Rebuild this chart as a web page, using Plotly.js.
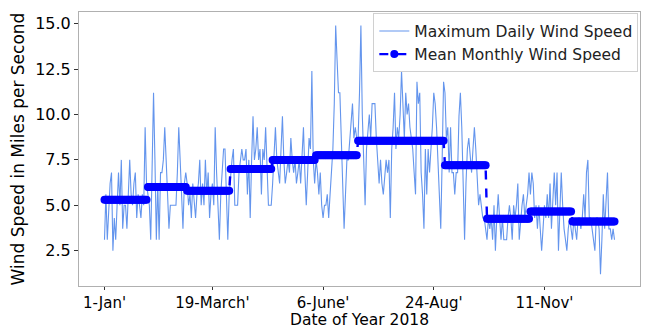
<!DOCTYPE html>
<html>
<head>
<meta charset="utf-8">
<script src="https://cdn.plot.ly/plotly-3.0.1.min.js"></script>
<style>
  html, body { margin: 0; padding: 0; background: #ffffff; }
  #chart { width: 648px; height: 329px; }
</style>
</head>
<body>
<div id="chart"></div>
<script>
// Daily maximum wind speed (mph), one array per month of 2018
const janSpeed = [3.1,5.6,3.1,5.0,6.2,6.8,2.5,4.3,3.1,5.0,6.8,5.0,7.5,3.7,5.0,5.0,3.7,5.6,7.5,5.6,5.0,6.2,6.8,4.3,5.6,5.0,4.3,5.6,5.0,9.3,6.2];
const febSpeed = [5.6,5.0,3.1,6.8,11.2,7.5,3.1,6.2,3.1,6.8,6.8,7.5,9.3,7.5,5.0,3.7,5.0,5.0,5.0,5.0,5.0,6.8,9.3,7.5,5.0,3.7,6.2,6.8];
const marSpeed = [6.2,5.0,5.6,4.3,6.2,5.0,4.3,5.6,6.2,7.5,5.0,6.2,5.0,7.5,5.6,6.8,4.3,5.6,6.2,5.0,9.3,6.8,5.0,3.1,5.6,6.8,8.1,8.1,5.6,3.1,5.6];
const aprSpeed = [6.8,7.5,8.1,5.0,5.0,5.0,6.8,7.5,8.1,7.5,7.5,8.1,5.6,7.5,4.3,7.5,9.9,7.5,8.1,9.3,7.5,8.1,5.6,8.1,7.5,9.3,6.8,5.0,5.0,5.0];
const maySpeed = [6.2,8.1,9.3,7.5,6.8,6.2,8.1,9.9,7.5,6.2,6.8,7.5,6.8,8.7,7.5,6.8,7.5,6.2,6.8,7.5,6.2,7.5,9.3,6.8,5.0,6.8,8.7,8.1,12.4,7.5,6.2];
const junSpeed = [7.5,6.8,5.6,6.8,5.0,4.3,5.0,5.0,5.6,4.3,5.6,6.8,8.1,10.6,14.9,13.0,11.2,11.2,8.7,6.2,3.7,5.6,7.5,7.5,8.7,9.3,10.6,8.7,9.3,8.7];
const julSpeed = [8.7,11.2,14.9,10.0,7.5,5.0,8.1,9.3,10.0,8.7,10.6,10.6,10.6,8.7,7.5,6.2,7.5,6.2,5.6,6.8,7.5,6.8,7.5,4.3,8.1,9.3,11.2,8.1,9.3,8.7,10.0];
const augSpeed = [12.4,10.6,8.7,11.2,10.0,10.6,9.3,8.7,8.1,6.8,5.6,11.8,10.6,11.2,6.8,5.6,3.7,8.1,5.6,8.1,6.8,8.1,9.3,11.2,10.6,9.3,7.5,5.0,3.7,7.5,11.8];
const sepSpeed = [11.2,8.7,9.3,6.8,9.3,6.8,6.8,5.6,6.8,6.8,9.9,11.2,9.3,6.8,3.1,6.2,8.1,8.7,7.5,6.8,8.1,9.3,8.1,6.8,5.0,5.6,5.0,4.3,4.3,3.7];
const octSpeed = [3.1,4.3,3.7,4.3,3.1,5.0,2.5,4.3,5.6,4.3,3.1,4.3,3.1,3.1,3.1,4.3,5.0,4.3,3.1,5.0,4.3,5.0,6.2,3.1,4.3,5.0,5.6,4.3,5.0,5.6,6.8];
const novSpeed = [5.6,6.8,6.2,4.3,5.0,3.7,5.0,3.7,2.5,3.7,5.0,4.3,5.6,4.3,6.2,3.7,5.0,6.8,5.0,6.8,2.5,4.3,6.8,5.0,3.7,3.1,2.5,3.7,4.3,3.7];
const decSpeed = [3.1,4.3,3.7,3.1,4.3,4.3,3.7,4.3,5.6,4.3,6.8,7.5,4.3,4.3,3.7,3.1,2.5,4.3,4.3,3.7,1.2,3.1,5.6,3.7,5.0,6.8,3.7,3.7,3.1,3.7,3.1];

// Mean wind speed of each month (mph)
const monthMeans = [5.3, 6.0, 5.8, 7.0, 7.5, 7.75, 8.55, 8.55, 7.2, 4.25, 4.65, 4.1];

// Tick positions (day of year, 0 = 1 January) and their labels
const tickDays = [0, 77, 156, 235, 314];
const tickLabels = ["1-Jan'", "19-March'", "6-June'", "24-Aug'", "11-Nov'"];

const months = [janSpeed, febSpeed, marSpeed, aprSpeed, maySpeed, junSpeed,
                julSpeed, augSpeed, sepSpeed, octSpeed, novSpeed, decSpeed];

// Flatten into one daily series; the monthly mean is repeated on every day of its month
const days = [];
const daily = [];
const meanDaily = [];
months.forEach((m, i) => {
  m.forEach(v => {
    days.push(daily.length);
    daily.push(v);
    meanDaily.push(monthMeans[i]);
  });
});

const font = "DejaVu Sans, Verdana, sans-serif";

const traces = [
  {
    x: days, y: daily,
    type: "scatter", mode: "lines",
    name: "Maximum Daily Wind Speed",
    line: { color: "#6495ED", width: 1.1 }
  },
  {
    x: days, y: meanDaily,
    type: "scatter", mode: "lines+markers",
    name: "Mean Monthly Wind Speed",
    line: { color: "#0000FF", width: 2.4, dash: "dash" },
    marker: { color: "#0000FF", size: 8 }
  }
];

const layout = {
  width: 648, height: 329,
  margin: { l: 79, r: 8, t: 12, b: 43 },
  paper_bgcolor: "#ffffff",
  plot_bgcolor: "#ffffff",
  font: { family: font, color: "#000000", size: 15 },
  showlegend: true,
  legend: {
    x: 0.997, xanchor: "right", y: 0.995, yanchor: "top",
    bgcolor: "rgba(255,255,255,0.85)",
    bordercolor: "#d0d0d0", borderwidth: 1,
    font: { family: font, size: 15.5, color: "#222222" },
    tracegroupgap: 0
  },
  xaxis: {
    range: [-18.2, 382.2],
    tickmode: "array", tickvals: tickDays, ticktext: tickLabels,
    ticks: "outside", ticklen: 3, tickcolor: "#333333",
    tickfont: { family: font, size: 15 },
    showgrid: false, zeroline: false,
    showline: true, linecolor: "#b0b0b0", linewidth: 1, mirror: true,
    automargin: false,
    title: { text: "Date of Year 2018", font: { family: font, size: 15.5 }, standoff: 7 }
  },
  yaxis: {
    range: [0.55, 15.65],
    tickmode: "array", tickvals: [2.5, 5, 7.5, 10, 12.5, 15],
    ticktext: ["2.5", "5.0", "7.5", "10.0", "12.5", "15.0"],
    ticks: "outside", ticklen: 4, tickcolor: "#333333",
    tickfont: { family: font, size: 16 },
    showgrid: false, zeroline: false,
    showline: true, linecolor: "#b0b0b0", linewidth: 1, mirror: true,
    automargin: false,
    title: { text: "Wind Speed in Miles per Second", font: { family: font, size: 17 }, standoff: 6 }
  }
};

Plotly.newPlot("chart", traces, layout, { displayModeBar: false, staticPlot: true });
</script>
</body>
</html>
